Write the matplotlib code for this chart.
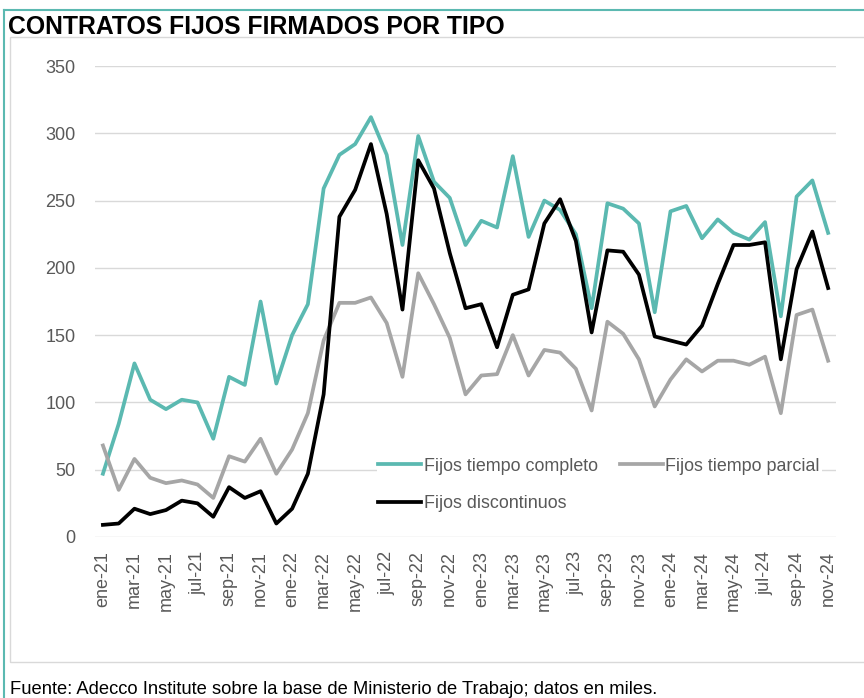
import matplotlib.pyplot as plt
from matplotlib.lines import Line2D
from matplotlib.patches import Rectangle

plt.rcParams["font.family"] = ["Liberation Sans", "DejaVu Sans"]

# !Data (miles de contratos)
meses = ["ene", "feb", "mar", "abr", "may", "jun", "jul", "ago", "sep", "oct", "nov", "dic"]
years = ["21", "22", "23", "24"]
etiquetas = [f"{m}-{y}" for y in years for m in meses][:47]

completo = [
    47, 84, 129, 102, 95, 102, 100, 73, 119, 113, 175, 114,
    150, 173, 259, 284, 292, 312, 284, 217, 298, 264, 252, 217,
    235, 230, 283, 223, 250, 243, 225, 170, 248, 244, 233, 167,
    242, 246, 222, 236, 226, 221, 234, 164, 253, 265, 226,
]
parcial = [
    68, 35, 58, 44, 40, 42, 39, 29, 60, 56, 73, 47,
    65, 92, 146, 174, 174, 178, 159, 119, 196, 173, 148, 106,
    120, 121, 150, 120, 139, 137, 125, 94, 160, 151, 132, 97,
    117, 132, 123, 131, 131, 128, 134, 92, 165, 169, 131,
]
discontinuos = [
    9, 10, 21, 17, 20, 27, 25, 15, 37, 29, 34, 10,
    21, 47, 106, 238, 258, 292, 240, 169, 280, 259, 211, 170,
    173, 141, 180, 184, 233, 251, 220, 152, 213, 212, 195, 149,
    146, 143, 157, 188, 217, 217, 219, 132, 199, 227, 185,
]

TEAL = "#5BB9B1"
GREY = "#A6A6A6"
TXT = "#595959"

fig = plt.figure(figsize=(8.64, 6.98), dpi=100)
ax = fig.add_axes([0.110, 0.2307, 0.8576, 0.6747])

# !Frames
W, H = 864, 698
fig.add_artist(Line2D([3.5 / W, 3.5 / W], [0, 1 - 10 / H], color=TEAL, lw=1.5, transform=fig.transFigure))
fig.add_artist(Line2D([3.5 / W, 1], [1 - 10 / H, 1 - 10 / H], color=TEAL, lw=1.5, transform=fig.transFigure))
fig.add_artist(Rectangle((10 / W, 1 - 662 / H), 1.0, (662 - 37) / H, fill=False,
                         edgecolor="#D9D9D9", lw=1.0, transform=fig.transFigure))

x = list(range(len(etiquetas)))
l1, = ax.plot(x, completo, color=TEAL, lw=2.7, label="Fijos tiempo completo", solid_joinstyle="round")
l2, = ax.plot(x, parcial, color=GREY, lw=2.7, label="Fijos tiempo parcial", solid_joinstyle="round")
l3, = ax.plot(x, discontinuos, color="black", lw=2.7, label="Fijos discontinuos", solid_joinstyle="round")

ax.set_ylim(0, 350)
ax.set_yticks(range(0, 351, 50))
ax.set_xlim(-0.5, len(etiquetas) - 0.5)
ax.set_xticks(x[::2])
ax.set_xticklabels(etiquetas[::2], rotation=90)
ax.tick_params(axis="both", length=0, labelsize=13, colors=TXT)
ax.tick_params(axis="x", pad=10)
ax.tick_params(axis="y", pad=14)
ax.grid(axis="y", color="#D9D9D9", lw=1.0)
ax.set_axisbelow(True)
for s in ax.spines.values():
    s.set_visible(False)

# legend fills by column, so order handles to get row-wise layout
leg = ax.legend([l1, l3, l2], [l1.get_label(), l3.get_label(), l2.get_label()],
                ncol=2, loc="upper left", bbox_to_anchor=(0.38, 0.172), frameon=True,
                fontsize=12.9, handlelength=2.4, handletextpad=0.15, columnspacing=1.2,
                labelspacing=1.15, borderpad=0.1, borderaxespad=0)
leg.get_frame().set_edgecolor("none")
leg.get_frame().set_facecolor("white")
leg.get_frame().set_alpha(1)
for t in leg.get_texts():
    t.set_color(TXT)

fig.text(8 / W, 1 - 27 / H, "CONTRATOS FIJOS FIRMADOS POR TIPO", fontsize=17.8,
         fontweight="bold", va="center", ha="left")
fig.text(10 / W, 1 - 690 / H,
         "Fuente: Adecco Institute sobre la base de Ministerio de Trabajo; datos en miles.",
         fontsize=13.2, va="center", ha="left")

fig.savefig("out.png", dpi=100)
